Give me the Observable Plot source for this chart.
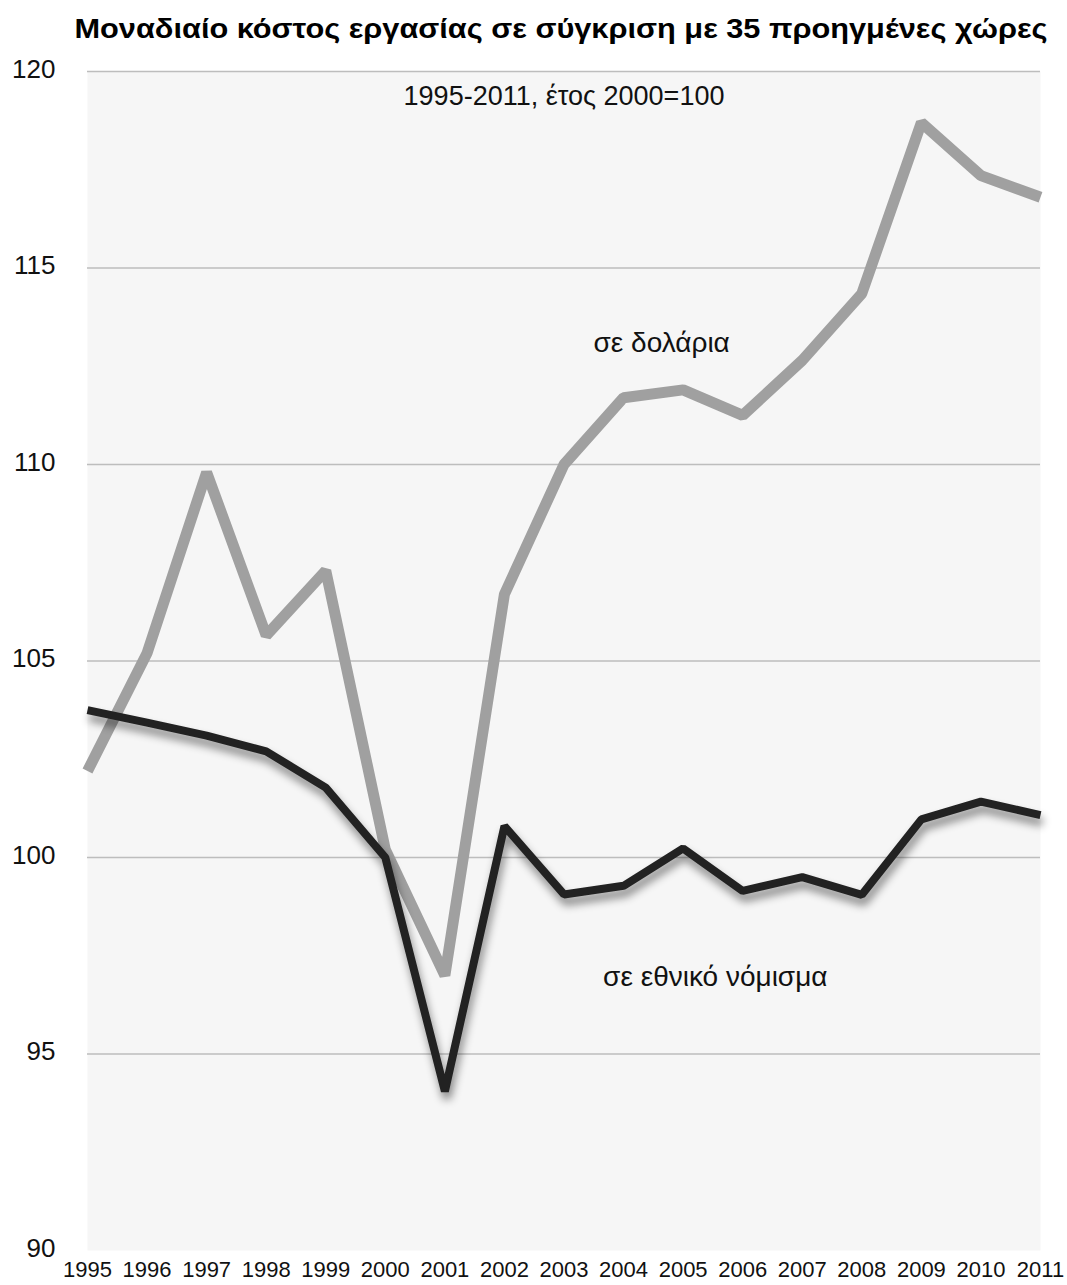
<!DOCTYPE html>
<html><head><meta charset="utf-8">
<script src="https://cdn.jsdelivr.net/npm/d3@7"></script>
<script src="https://cdn.jsdelivr.net/npm/@observablehq/plot@0.6"></script>
<style>
body{margin:0;background:#fff;}
#title{display:block;}
#title text{font-family:"Liberation Sans",Arial,sans-serif;font-weight:bold;}
#chart svg{display:block;}
</style></head><body>
<svg id="title" width="1067" height="50"></svg>
<div id="chart"></div>
<script>
const years = [1995,1996,1997,1998,1999,2000,2001,2002,2003,2004,2005,2006,2007,2008,2009,2010,2011];
const dollars = [102.2,105.2,109.8,105.65,107.3,100.2,97.0,106.7,110.0,111.7,111.9,111.25,112.65,114.35,118.7,117.35,116.8];
const national = [103.75,103.43,103.1,102.7,101.78,100.0,94.05,100.8,99.06,99.28,100.23,99.15,99.5,99.05,100.97,101.42,101.08];
const yTicks = [90,95,100,105,110,115,120];
const gridValues = [95,100,105,110,115,120];
const titleText = "Μοναδιαίο κόστος εργασίας σε σύγκριση με 35 προηγμένες χώρες";
const subtitleText = "1995-2011, έτος 2000=100";
const seriesLabels = [
  {text:"σε δολάρια", year:2004.64, value:113.1},
  {text:"σε εθνικό νόμισμα", year:2005.54, value:96.95}
];

// title
const t = document.createElementNS("http://www.w3.org/2000/svg","text");
t.setAttribute("x", 561); t.setAttribute("y", 38);
t.setAttribute("text-anchor","middle");
t.setAttribute("font-size", 28);
t.setAttribute("textLength", 973);
t.setAttribute("lengthAdjust","spacingAndGlyphs");
t.setAttribute("fill","#000");
t.textContent = titleText;
document.getElementById("title").appendChild(t);

const dollarData = years.map((y,i)=>({year:y, value:dollars[i]}));
const nationalData = years.map((y,i)=>({year:y, value:national[i]}));
const font = '"Liberation Sans",Arial,sans-serif';

const chart = Plot.plot({
  width:1067, height:1235,
  marginLeft:87, marginRight:27, marginTop:21, marginBottom:35,
  style:{fontFamily:font, fontSize:"22px", color:"#111", background:"white"},
  x:{domain:[1995,2011]},
  y:{domain:[90,120]},
  marks:[
    Plot.frame({fill:"#f6f6f6", stroke:null}),
    Plot.ruleY(gridValues, {stroke:"#bdbdbd", strokeWidth:1.5}),
    Plot.axisX({ticks:years, tickFormat:"d", tickSize:0, tickPadding:11, fontSize:22, label:null, fill:"#111"}),
    Plot.axisY({ticks:yTicks, tickSize:0, tickPadding:32, fontSize:26, label:null, fill:"#111", dy:-2}),
    Plot.line(dollarData, {x:"year", y:"value", stroke:"#a0a0a0", strokeWidth:11, strokeLinejoin:"miter", strokeLinecap:"butt"}),
    Plot.line(nationalData, {x:"year", y:"value", stroke:"#222", strokeWidth:8, strokeLinejoin:"miter", strokeLinecap:"butt", imageFilter:"drop-shadow(2px 7px 4px rgba(0,0,0,0.45))"}),
    Plot.text([subtitleText], {text:d=>d, frameAnchor:"top", lineAnchor:"middle", dy:25, fontSize:27, fill:"#111"}),
    Plot.text(seriesLabels, {x:"year", y:"value", text:"text", fontSize:28, fill:"#111"})
  ]
});
document.getElementById("chart").appendChild(chart);
</script>
</body></html>
